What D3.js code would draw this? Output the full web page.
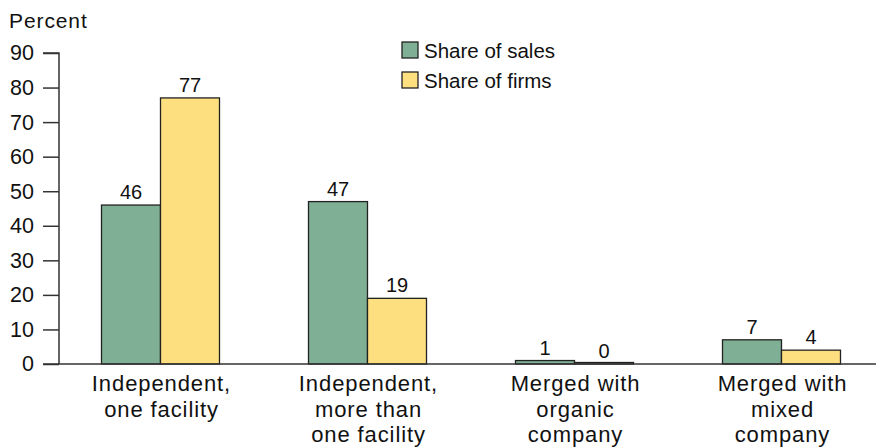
<!DOCTYPE html>
<html>
<head>
<meta charset="utf-8">
<script src="https://cdn.jsdelivr.net/npm/d3@7"></script>
<style>
    body { margin: 0; background: #fff; }
    svg text { font-family: "Liberation Sans", Arial, sans-serif; fill: #111; }
    .wide { letter-spacing: 0.9px; }
</style>
</head>
<body>
<svg id="chart" width="876" height="448"></svg>
<script>
    const categories = [
        ["Independent,", "one facility"],
        ["Independent,", "more than", "one facility"],
        ["Merged with", "organic", "company"],
        ["Merged with", "mixed", "company"]
    ];
    const seriesNames = ["Share of sales", "Share of firms"];
    const salesValues = [46, 47, 1, 7];
    const firmsValues = [77, 19, 0, 4];
    const yTicks = [0, 10, 20, 30, 40, 50, 60, 70, 80, 90];
    const colors = ["#7fb096", "#fedf80"];

    let svg = d3.select("#chart");

    let y = d3.scaleLinear().domain([0, 90]).range([364, 53]);
    let x0 = d3.scaleBand().domain(d3.range(categories.length)).range([57, 885]).padding(0);
    let x1 = d3.scaleBand().domain(d3.range(seriesNames.length)).range([44.5, 162.5]).padding(0);

    let data = categories.map((c, i) => [salesValues[i], firmsValues[i]]);

    // y axis
    let axis = d3.axisLeft(y).tickValues(yTicks).tickSize(16).tickPadding(9);
    let gAxis = svg.append("g").attr("transform", "translate(59,0)").call(axis);
    gAxis.select(".domain").attr("stroke", "#333").attr("stroke-width", 1.5).attr("d", "M0,364V53H-16");
    gAxis.selectAll(".tick line").attr("stroke", "#333").attr("stroke-width", 1.5);
    gAxis.selectAll(".tick text")
        .style("font-size", "21.5px")
        .style("font-family", "'Liberation Sans', Arial, sans-serif")
        .attr("fill", "#111");

    svg.append("text").attr("class", "wide").attr("x", 9).attr("y", 28).style("font-size", "21px").text("Percent");

    // bars (zero values still get a hairline so they show, like the original)
    let groups = svg.append("g").selectAll("g")
        .data(data)
        .join("g")
        .attr("transform", (d, i) => `translate(${x0(i)},0)`);

    groups.selectAll("rect")
        .data(d => d)
        .join("rect")
        .attr("x", (d, j) => x1(j))
        .attr("y", d => Math.min(y(d), y(0) - 1.5))
        .attr("width", x1.bandwidth())
        .attr("height", d => Math.max(y(0) - y(d), 1.5))
        .attr("fill", (d, j) => colors[j])
        .attr("stroke", "#222")
        .attr("stroke-width", 1.3);

    groups.selectAll("text.val")
        .data(d => d)
        .join("text")
        .attr("class", "val")
        .attr("x", (d, j) => x1(j) + x1.bandwidth() / 2)
        .attr("y", d => y(d) - 6)
        .attr("text-anchor", "middle")
        .style("font-size", "20px")
        .text(d => d);

    // baseline
    svg.append("line")
        .attr("x1", 43).attr("x2", 876)
        .attr("y1", y(0)).attr("y2", y(0))
        .attr("stroke", "#333").attr("stroke-width", 1.5);

    // category labels
    groups.append("text")
        .attr("class", "wide")
        .attr("text-anchor", "middle")
        .style("font-size", "22px")
        .selectAll("tspan")
        .data((d, i) => categories[i])
        .join("tspan")
        .attr("x", x0.bandwidth() / 2 + 1)
        .attr("y", (d, k) => 391 + k * 25.5)
        .text(d => d);

    // legend
    let legend = svg.append("g").attr("transform", "translate(402,42)");
    let items = legend.selectAll("g").data(seriesNames).join("g")
        .attr("transform", (d, i) => `translate(0,${i * 30})`);
    items.append("rect")
        .attr("width", 16).attr("height", 16)
        .attr("fill", (d, i) => colors[i])
        .attr("stroke", "#222").attr("stroke-width", 1.3);
    items.append("text")
        .attr("x", 22).attr("y", 15.5)
        .style("font-size", "20.5px")
        .text(d => d);
</script>
</body>
</html>
